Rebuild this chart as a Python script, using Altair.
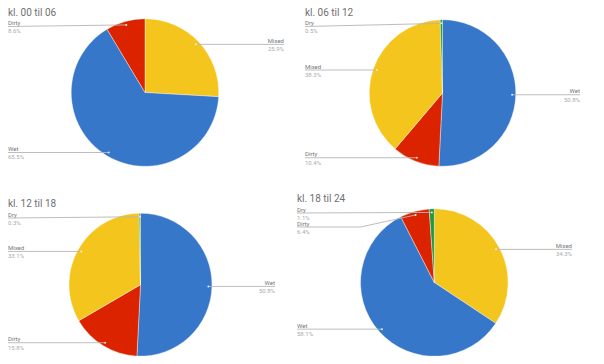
import altair as alt
import pandas as pd
import numpy as np

# ---------------- data ----------------
titles = ["kl. 00 til 06", "kl. 06 til 12", "kl. 12 til 18", "kl. 18 til 24"]

p1_cats = ["Mixed", "Wet", "Dirty"]
p1_vals = [25.9, 65.5, 8.6]
p2_cats = ["Wet", "Dirty", "Mixed", "Dry"]
p2_vals = [50.8, 10.4, 38.3, 0.5]
p3_cats = ["Wet", "Dirty", "Mixed", "Dry"]
p3_vals = [50.8, 15.8, 33.1, 0.3]
p4_cats = ["Mixed", "Wet", "Dirty", "Dry"]
p4_vals = [34.3, 58.1, 6.4, 1.1]

categories = ["Wet", "Dirty", "Mixed", "Dry"]
colors = ["#3677c9", "#dc2300", "#f4c51d", "#1f9a3b"]

# ---------------- layout (chart pixel space) ----------------
W, H = 588, 348
layout = [
    dict(cx=137.0, cy=84.5, r=73.8, lx=0, rx=276, tx=0, ty=7.5),
    dict(cx=434.5, cy=85.0, r=73.3, lx=297, rx=572, tx=297, ty=7.5),
    dict(cx=132.5, cy=276.7, r=71.5, lx=0, rx=267, tx=0, ty=199),
    dict(cx=426.3, cy=274.5, r=73.8, lx=289, rx=564, tx=289, ty=194),
]
panels = [(p1_cats, p1_vals), (p2_cats, p2_vals), (p3_cats, p3_vals), (p4_cats, p4_vals)]

arc_rows, lab_rows, seg_rows, title_rows = [], [], [], []
for i, ((cats, vals), lay) in enumerate(zip(panels, layout)):
    total = float(sum(vals))
    cum = 0.0
    rows = []
    for c, v in zip(cats, vals):
        t0 = cum / total * 2 * np.pi
        cum += v
        t1 = cum / total * 2 * np.pi
        mid = (t0 + t1) / 2
        dx = lay["cx"] + 0.95 * lay["r"] * np.sin(mid)
        dy = lay["cy"] - 0.95 * lay["r"] * np.cos(mid)
        arc_rows.append(dict(panel=i, cat=c, t0=t0, t1=t1, cx=lay["cx"], cy=lay["cy"], r=lay["r"]))
        rows.append(dict(cat=c, v=v, dx=dx, dy=dy, side="L" if np.sin(mid) < 0 else "R"))
    for side in ["L", "R"]:
        srows = sorted([r for r in rows if r["side"] == side], key=lambda r: r["dy"])
        prev = lay["ty"] + 11 - 14  # keep labels clear of the title
        for r in srows:
            ly = max(r["dy"], prev + 14)
            prev = ly
            lx = lay["lx"] if side == "L" else lay["rx"]
            bx = lay["cx"] - lay["r"] if side == "L" else lay["cx"] + lay["r"]
            lab_rows.append(dict(panel=i, side=side, name=r["cat"],
                                 pct=f"{r['v']:.1f}%", x=lx, y=ly,
                                 dotx=r["dx"], doty=r["dy"]))
            if abs(ly - r["dy"]) < 4:
                seg_rows.append(dict(x=lx, y=ly, x2=r["dx"], y2=r["dy"]))
            else:
                seg_rows.append(dict(x=lx, y=ly, x2=bx, y2=ly))
                seg_rows.append(dict(x=bx, y=ly, x2=r["dx"], y2=r["dy"]))
    title_rows.append(dict(title=titles[i], x=lay["tx"], y=lay["ty"]))

arcs = pd.DataFrame(arc_rows)
labs = pd.DataFrame(lab_rows)
segs = pd.DataFrame(seg_rows)
tdf = pd.DataFrame(title_rows)

xs = alt.Scale(domain=[0, W], range=[0, W], nice=False, zero=False)
ys = alt.Scale(domain=[0, H], range=[0, H], nice=False, zero=False)

def X(f):
    return alt.X(f, type="quantitative", scale=xs, axis=None)

def Y(f):
    return alt.Y(f, type="quantitative", scale=ys, axis=None)

pie = alt.Chart(arcs).mark_arc(stroke="white", strokeWidth=0.4).encode(
    x=X("cx"), y=Y("cy"),
    theta=alt.Theta("t0:Q", scale=None),
    theta2="t1:Q",
    radius=alt.Radius("r:Q", scale=None),
    color=alt.Color("cat:N", scale=alt.Scale(domain=categories, range=colors), legend=None),
)

lines = alt.Chart(segs).mark_rule(color="#b5b5b5", strokeWidth=0.9).encode(
    x=X("x"), y=Y("y"), x2="x2", y2="y2"
)

dots = alt.Chart(labs).mark_circle(color="#f2f2f2", size=4, opacity=0.9).encode(
    x=X("dotx"), y=Y("doty")
)

font = "Roboto"
def label_layers(side, align):
    d = labs[labs["side"] == side]
    name = alt.Chart(d).mark_text(align=align, baseline="alphabetic", dy=-1.5,
                                  fontSize=6, font=font, color="#777777").encode(
        x=X("x"), y=Y("y"), text="name:N")
    pct = alt.Chart(d).mark_text(align=align, baseline="top", dy=1.8,
                                 fontSize=6, font=font, color="#aaaaaa").encode(
        x=X("x"), y=Y("y"), text="pct:N")
    return [name, pct]

ttl = alt.Chart(tdf).mark_text(align="left", baseline="alphabetic", fontSize=10,
                               font=font, color="#707070").encode(
    x=X("x"), y=Y("y"), text="title:N")

chart = alt.layer(
    pie, lines, dots, *label_layers("L", "left"), *label_layers("R", "right"), ttl
).properties(
    width=W, height=H, autosize=alt.AutoSizeParams(type="none"), padding=0,
    background="white"
).configure_view(stroke=None)

chart.save("out.html", embed_options={"renderer": "svg", "actions": False})
